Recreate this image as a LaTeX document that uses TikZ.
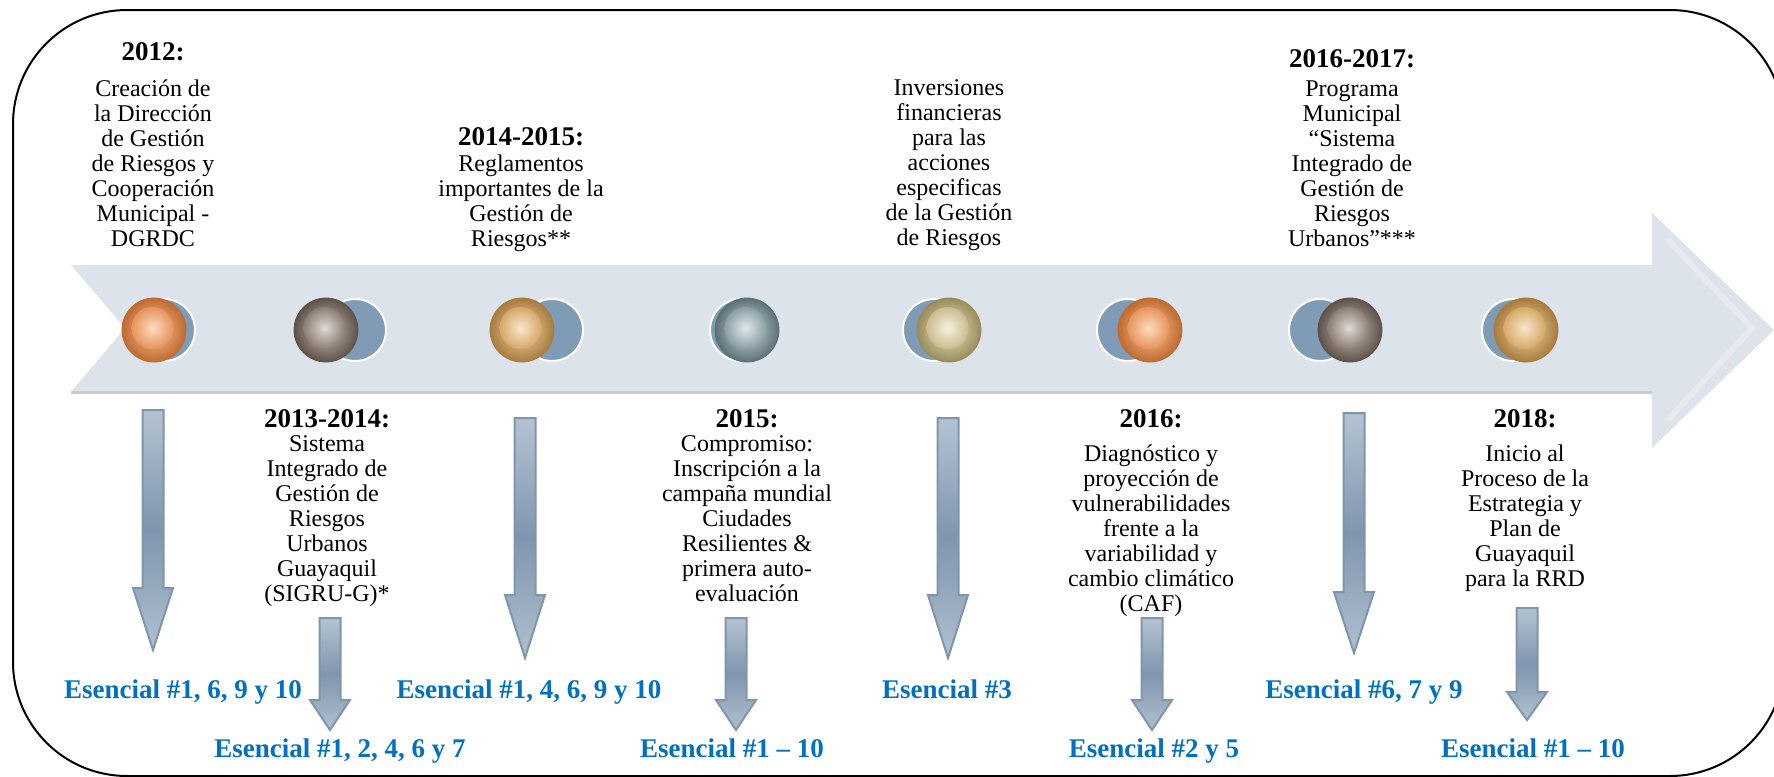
\documentclass[tikz,border=0pt]{standalone}
\usepackage{fontspec}
\setmainfont{Liberation Serif}
\usetikzlibrary{positioning}
\definecolor{bandfill}{HTML}{DDE3EA}
\definecolor{bandedge}{HTML}{C6CCD4}
\definecolor{bandbevel}{HTML}{E7EBF0}
\definecolor{discback}{HTML}{7F9BB5}
\definecolor{esblue}{HTML}{0070C0}
\definecolor{arrtop}{HTML}{B4C3D2}
\definecolor{arrmid}{HTML}{7F96AE}
\definecolor{arrbot}{HTML}{B0C0CF}
\definecolor{arredge}{HTML}{7F95AC}
\definecolor{orngl}{HTML}{F8C49A}\definecolor{orngm}{HTML}{E8935A}\definecolor{orngd}{HTML}{C06A30}
\definecolor{brwnl}{HTML}{CBBFB7}\definecolor{brwnm}{HTML}{8C7D74}\definecolor{brwnd}{HTML}{5E524B}
\definecolor{goldl}{HTML}{F3D7A8}\definecolor{goldm}{HTML}{D6A868}\definecolor{goldd}{HTML}{A97B3D}
\definecolor{teall}{HTML}{CCDADE}\definecolor{tealm}{HTML}{8A9EA4}\definecolor{teald}{HTML}{5C7177}
\definecolor{khakl}{HTML}{EFE8C6}\definecolor{khakm}{HTML}{C9BD8E}\definecolor{khakd}{HTML}{998C5C}
\newcommand{\discpair}[3]{%
  \fill[discback,draw=white,line width=1pt] (#1+#2,330) circle[radius=15.5pt];
  \shade[inner color=#3l,outer color=#3d,draw=#3d,line width=0.4pt] (#1,330) circle[radius=16pt];
  \shade[inner color=#3l!60!white,outer color=#3m] (#1-1.5,328) circle[radius=10.5pt];}
\newcommand{\esarrow}[4]{%
  \path[downarrow] (#1-10.5,#2) -- (#1+10.5,#2) -- (#1+10.5,#3) -- (#1+20,#3) -- (#1,#4)
    -- (#1-20,#3) -- (#1-10.5,#3) -- cycle;}

\begin{document}
\begin{tikzpicture}[x=0.5pt,y=-0.5pt,
  evtext/.style={align=center,inner sep=0pt,font=\fontsize{12}{12.5}\selectfont},
  yeartext/.style={inner sep=0pt,anchor=base,font=\bfseries\fontsize{13.5}{14}\selectfont},
  esencial/.style={inner sep=0pt,anchor=base,text=esblue,font=\bfseries\fontsize{13.5}{15}\selectfont},
  downarrow/.style={top color=arrtop,bottom color=arrbot,middle color=arrmid,draw=arredge,line width=1pt}]
\useasboundingbox (0,0) rectangle (1774,777);
\clip (0,0) rectangle (1774,777);
\draw[line width=1pt,rounded corners=57pt] (13,10) rectangle (1784,776);

\fill[bandfill] (71,265) -- (1652,265) -- (1652,213) -- (1774,330) -- (1652,448) -- (1652,392)
  -- (71,392) -- (125,328) -- cycle;
\draw[bandbevel,line width=3pt] (1668,240) -- (1752,328) -- (1668,420);
\draw[bandedge,line width=1.5pt] (71,392) -- (1652,392);

\discpair{154}{10}{orng}
\discpair{326}{29}{brwn}
\discpair{522}{30}{gold}
\discpair{747}{-6}{teal}
\discpair{949}{-15}{khak}
\discpair{1150}{-22}{orng}
\discpair{1350}{-30}{brwn}
\discpair{1526}{-13}{gold}

\esarrow{153}{410}{588}{650}
\esarrow{330}{618}{700}{730}
\esarrow{525}{418}{595}{658}
\esarrow{736}{618}{700}{730}
\esarrow{948}{418}{595}{658}
\esarrow{1152}{618}{700}{730}
\esarrow{1354}{413}{592}{653}
\esarrow{1527}{608}{692}{720}

\node[yeartext] (yr1) at (153,60) {2012:};
\node[evtext,below=8.75pt of yr1] (tx1) {\strut Creación de\\la Dirección\\de Gestión\\de Riesgos y\\Cooperación\\Municipal -\\DGRDC};
\node[yeartext] (yr2) at (327,427) {2013-2014:};
\node[evtext,below=2.75pt of yr2] (tx2) {\strut Sistema\\Integrado de\\Gestión de\\Riesgos\\Urbanos\\Guayaquil\\(SIGRU-G)*};
\node[yeartext] (yr3) at (521,145) {2014-2015:};
\node[evtext,below=3.75pt of yr3] (tx3) {\strut Reglamentos\\importantes de la\\Gestión de\\Riesgos**};
\node[yeartext] (yr4) at (747,427) {2015:};
\node[evtext,below=2.75pt of yr4] (tx4) {\strut Compromiso:\\Inscripción a la\\campaña mundial\\Ciudades\\Resilientes \&\\primera auto-\\evaluación};
\node[evtext,anchor=north] (tx5) at (949,77.5) {\strut Inversiones\\financieras\\para las\\acciones\\especificas\\de la Gestión\\de Riesgos};
\node[yeartext] (yr6) at (1151,427) {2016:};
\node[evtext,below=7.75pt of yr6] (tx6) {\strut Diagnóstico y\\proyección de\\vulnerabilidades\\frente a la\\variabilidad y\\cambio climático\\(CAF)};
\node[yeartext] (yr7) at (1352,67) {2016-2017:};
\node[evtext,below=5.25pt of yr7] (tx7) {\strut Programa\\Municipal\\“Sistema\\Integrado de\\Gestión de\\Riesgos\\Urbanos”***};
\node[yeartext] (yr8) at (1525,427) {2018:};
\node[evtext,below=7.75pt of yr8] (tx8) {\strut Inicio al\\Proceso de la\\Estrategia y\\Plan de\\Guayaquil\\para la RRD};

\node[esencial] (es1) at (183,698) {Esencial \#1, 6, 9 y 10};
\node[esencial] (es2) at (340,757) {Esencial \#1, 2, 4, 6 y 7};
\node[esencial] (es3) at (529,698) {Esencial \#1, 4, 6, 9 y 10};
\node[esencial] (es4) at (732,757) {Esencial \#1 – 10};
\node[esencial] (es5) at (947,698) {Esencial \#3};
\node[esencial] (es6) at (1154,757) {Esencial \#2 y 5};
\node[esencial] (es7) at (1364,698) {Esencial \#6, 7 y 9};
\node[esencial] (es8) at (1533,757) {Esencial \#1 – 10};
\end{tikzpicture}
\end{document}
